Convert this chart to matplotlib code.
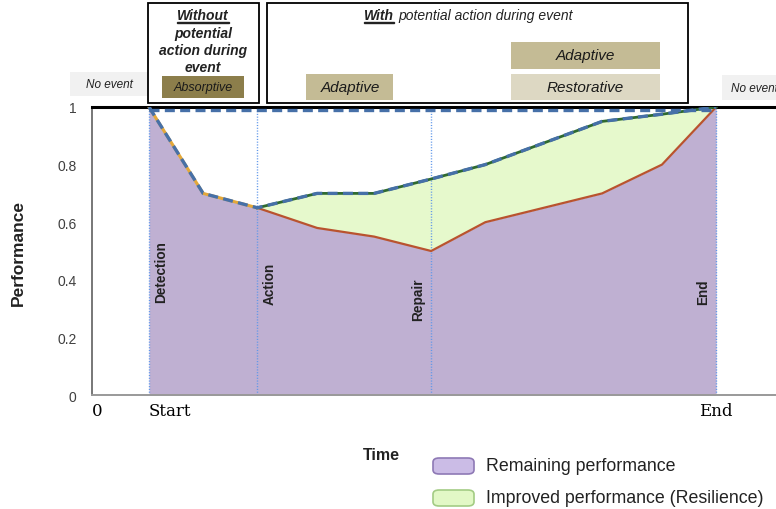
import matplotlib

matplotlib.use("Agg")
import matplotlib.pyplot as plt
from matplotlib.patches import Rectangle, FancyBboxPatch

plt.rcParams["font.family"] = ["Liberation Sans", "DejaVu Sans"]

W, H = 776, 510

# --- data (time in arbitrary units, performance 0..1) ---
absorb_t = [1.0, 1.95, 2.9]
absorb_p = [1.0, 0.70, 0.65]

recov_t = [2.9, 3.95, 4.95, 5.95, 6.9, 8.95, 10.0, 10.95]
improved_p = [0.65, 0.70, 0.70, 0.75, 0.80, 0.95, 0.975, 1.0]
remaining_p = [0.65, 0.58, 0.55, 0.50, 0.60, 0.70, 0.80, 1.0]

baseline_p = 0.99
event_t = [1.0, 10.95]

phase_t = [1.0, 2.9, 5.95, 10.95]
phase_names = ["Detection", "Action", "Repair", "End"]
phase_y = [0.43, 0.39, 0.335, 0.36]
phase_side = ["right", "right", "left", "left"]

xtick_t = [0, 1.0, 10.95]
xtick_labels = ["0", "Start", "End"]
ytick_vals = [0, 0.2, 0.4, 0.6, 0.8, 1.0]
ytick_labels = ["0", "0.2", "0.4", "0.6", "0.8", "1"]

legend_labels = ["Remaining performance", "Improved performance (Resilience)"]

PURPLE = "#bfb0d2"
GREEN = "#e6f9cc"
RED = "#b9532f"
DKGREEN = "#2e6a30"
BLUE = "#4670a8"
ORANGE = "#e3a83a"
VLINE = "#5f97ea"


def fx(px):
    return px / W


def fy(py):
    return 1 - py / H


fig = plt.figure(figsize=(W / 100, H / 100), dpi=100)
ax = fig.add_axes([fx(92), fy(396), fx(776) - fx(92), fy(108) - fy(396)])
ax.set_xlim(0, 12.0)
ax.set_ylim(0, 1)

full_t = absorb_t + recov_t[1:]
full_rem = absorb_p + remaining_p[1:]
ax.fill_between(full_t, 0, full_rem, color=PURPLE, lw=0, zorder=1)
ax.fill_between(recov_t, remaining_p, improved_p, color=GREEN, lw=0, zorder=1)

for t in phase_t:
    ax.axvline(t, color=VLINE, lw=1.0, ls=(0, (0.8, 1.2)), zorder=2)

ax.plot(recov_t, remaining_p, color=RED, lw=1.6, zorder=3)
ax.plot(absorb_t, absorb_p, color=ORANGE, lw=2.2, zorder=3)
ax.plot(recov_t, improved_p, color=DKGREEN, lw=2.0, zorder=3)
ax.plot(absorb_t + recov_t[1:], absorb_p + improved_p[1:], color=BLUE,
        lw=2.4, dashes=(3, 1.6), zorder=4)
ax.plot(event_t, [baseline_p] * 2, color=BLUE, lw=2.4, dashes=(3, 1.6), zorder=4)

for t, name, y, side in zip(phase_t, phase_names, phase_y, phase_side):
    dx = 0.22 if side == "right" else -0.22
    ax.text(t + dx, y, name, rotation=90, ha="center", va="center",
            fontsize=9.8, fontweight="bold", color="#222222", zorder=5)

# spines / ticks
ax.spines["right"].set_visible(False)
ax.spines["top"].set_color("black")
ax.spines["top"].set_linewidth(2.2)
ax.spines["left"].set_color("#777777")
ax.spines["left"].set_linewidth(1.4)
ax.spines["bottom"].set_color("#999999")
ax.spines["bottom"].set_linewidth(1.4)
ax.tick_params(length=0)
ax.set_yticks(ytick_vals)
ax.set_yticklabels(ytick_labels, fontsize=10, color="#404040")
ax.tick_params(axis="y", pad=11)
ax.set_xticks(xtick_t)
ax.set_xticklabels(xtick_labels, fontsize=12, family="DejaVu Serif")
for lbl, ha in zip(ax.get_xticklabels(), ["left", "left", "center"]):
    lbl.set_ha(ha)
ax.tick_params(axis="x", pad=5)

fig.text(fx(18), fy(253), "Performance", rotation=90, ha="center", va="center",
         fontsize=12.5, fontweight="bold", color="#222222")
fig.text(fx(381), fy(455), "Time", ha="center", va="center",
         fontsize=11.5, fontweight="bold", color="#222222")


# --- header boxes ---
def box(x0, y0, x1, y1, face, edge=None, lw=0):
    fig.patches.append(Rectangle((fx(x0), fy(y1)), fx(x1) - fx(x0), fy(y0) - fy(y1),
                                 transform=fig.transFigure, facecolor=face,
                                 edgecolor=edge if edge else face, lw=lw, zorder=1))


def underline(x0, x1, y):
    fig.patches.append(Rectangle((fx(x0), fy(y)), fx(x1) - fx(x0), 1.2 / H,
                                 transform=fig.transFigure, color="#222222"))


box(70, 73, 148, 97, "#f1f1f1")
fig.text(fx(109), fy(85), "No event", ha="center", va="center", fontsize=8.5,
         style="italic", color="#222222")
box(722, 76, 800, 101, "#f1f1f1")
fig.text(fx(731), fy(89), "No event", ha="left", va="center", fontsize=8.5,
         style="italic", color="#222222")

box(148, 4, 259, 104, "white", "black", 1.3)
fig.text(fx(203), fy(16), "Without", ha="center", va="center", fontsize=10,
         style="italic", fontweight="bold", color="#222222")
underline(177, 229, 24)
fig.text(fx(203), fy(51), "potential\naction during\nevent", ha="center", va="center",
         fontsize=10, style="italic", fontweight="bold", color="#222222",
         linespacing=1.25)
box(162, 77, 244, 99, "#8c7e4b")
fig.text(fx(203), fy(88), "Absorptive", ha="center", va="center", fontsize=9,
         style="italic", color="#1a1a1a")

box(267, 4, 688, 104, "white", "black", 1.3)
# "With" (bold, underlined) followed by the rest, placed from measured widths
renderer = fig.canvas.get_renderer()
t_with = fig.text(fx(364), fy(16), "With", ha="left", va="center", fontsize=10,
                  style="italic", fontweight="bold", color="#222222")
bb = t_with.get_window_extent(renderer)
underline(bb.x0, bb.x1, 24)
fig.text(bb.x1 / W + fx(4), fy(16), "potential action during event", ha="left",
         va="center", fontsize=10, style="italic", color="#222222")

box(306, 75, 393, 101, "#c4bb95")
fig.text(fx(350), fy(88), "Adaptive", ha="center", va="center", fontsize=11,
         style="italic", color="#1a1a1a")
box(511, 43, 660, 70, "#c4bb95")
fig.text(fx(585), fy(56), "Adaptive", ha="center", va="center", fontsize=11,
         style="italic", color="#1a1a1a")
box(511, 75, 660, 101, "#ddd8c3")
fig.text(fx(585), fy(88), "Restorative", ha="center", va="center", fontsize=11,
         style="italic", color="#1a1a1a")

# --- legend ---
leg_face = ["#cbbce6", "#e2f8c6"]
leg_edge = ["#8e79b5", "#a3cc84"]
leg_y = [467, 499]
for lab, fc, ec, yy in zip(legend_labels, leg_face, leg_edge, leg_y):
    fig.patches.append(FancyBboxPatch((fx(433), fy(yy + 8)), fx(474) - fx(433),
                                      fy(yy - 8) - fy(yy + 8),
                                      boxstyle="round,pad=0,rounding_size=0.008",
                                      transform=fig.transFigure, facecolor=fc,
                                      edgecolor=ec, lw=1.2))
    fig.text(fx(486), fy(yy), lab, ha="left", va="center", fontsize=12.8,
             color="#222222")

fig.savefig("out.png", dpi=100)
